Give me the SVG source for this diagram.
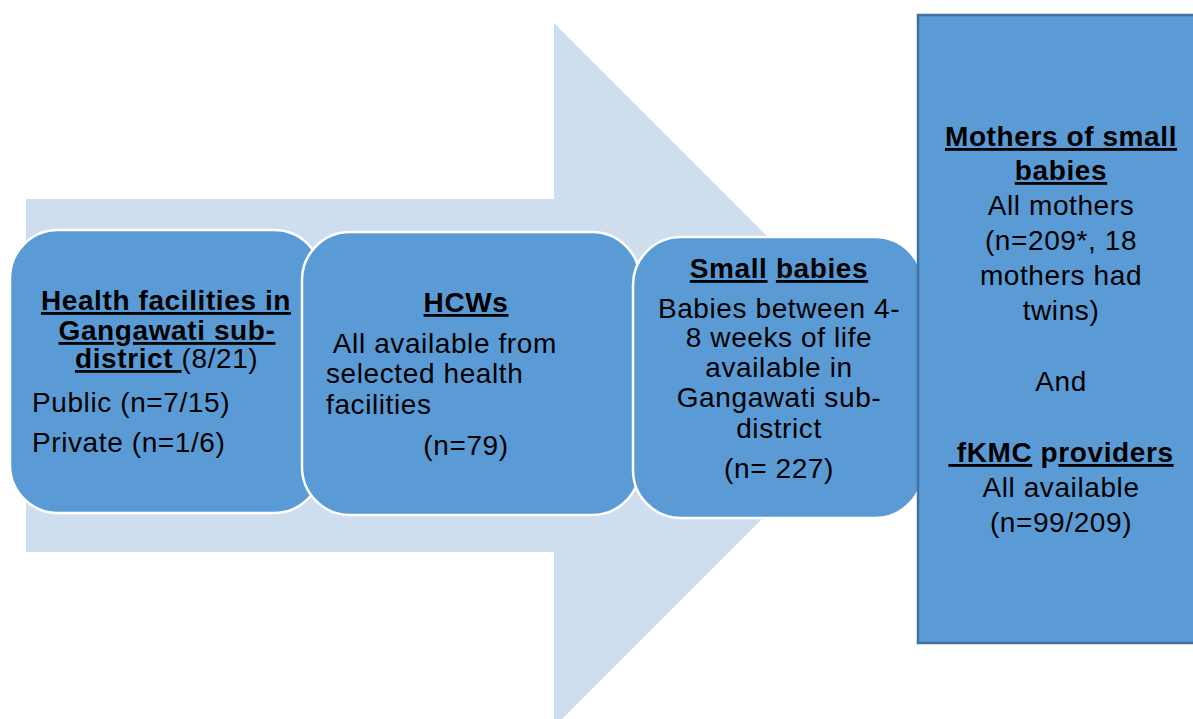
<svg xmlns="http://www.w3.org/2000/svg" width="1193" height="719" viewBox="0 0 1193 719">
  <style>
    .t { font-family: "Liberation Sans", Arial, sans-serif; font-size: 28px; letter-spacing: 0.6px; fill: #000; }
    .b { font-weight: bold; }
    .u { text-decoration: underline; }
    .mid { text-anchor: middle; }
    .stage { fill: #5b9bd5; stroke: #ffffff; stroke-width: 2.5; }
    .final { fill: #5b9bd5; stroke: #41719c; stroke-width: 2.5; }
  </style>

  <!-- background flow arrow -->
  <g id="connectors">
    <path d="M26 199 H554 V23 L906 375 L554 727 V552 H26 Z" fill="#cfdeee"/>
  </g>

  <g id="facilities">
    <rect class="stage" x="10" y="230" width="312" height="283" rx="48" ry="48"/>
    <text class="t b mid" x="166" y="310"><tspan class="u">Health facilities in</tspan></text>
    <text class="t b mid" x="167" y="340"><tspan class="u">Gangawati sub-</tspan></text>
    <text class="t" x="75" y="368"><tspan class="b u">district </tspan><tspan>(8/21)</tspan></text>
    <text class="t" x="32" y="412">Public (n=7/15)</text>
    <text class="t" x="32" y="452">Private (n=1/6)</text>
  </g>

  <g id="hcws">
    <rect class="stage" x="302" y="232" width="338" height="283" rx="48" ry="48"/>
    <text class="t b mid" x="466" y="312"><tspan class="u">HCWs</tspan></text>
    <text class="t" x="326" y="353" xml:space="preserve"> All available from</text>
    <text class="t" x="326" y="383">selected health</text>
    <text class="t" x="326" y="414">facilities</text>
    <text class="t mid" x="466" y="455">(n=79)</text>
  </g>

  <g id="babies">
    <rect class="stage" x="633" y="237" width="290" height="281" rx="48" ry="48"/>
    <text class="t b mid" x="779" y="278"><tspan class="u">Small</tspan> <tspan class="u">babies</tspan></text>
    <text class="t mid" x="779" y="318">Babies between 4-</text>
    <text class="t mid" x="779" y="347">8 weeks of life</text>
    <text class="t mid" x="779" y="377">available in</text>
    <text class="t mid" x="779" y="407">Gangawati sub-</text>
    <text class="t mid" x="779" y="438">district</text>
    <text class="t mid" x="779" y="478">(n= 227)</text>
  </g>

  <g id="mothers">
    <rect class="final" x="918" y="15" width="290" height="628"/>
    <text class="t b mid" x="1061" y="146"><tspan class="u">Mothers of small</tspan></text>
    <text class="t b mid" x="1061" y="180"><tspan class="u">babies</tspan></text>
    <text class="t mid" x="1061" y="215">All mothers</text>
    <text class="t mid" x="1061" y="250">(n=209*, 18</text>
    <text class="t mid" x="1061" y="285">mothers had</text>
    <text class="t mid" x="1061" y="320">twins)</text>
    <text class="t mid" x="1061" y="391">And</text>
    <text class="t b mid" x="1061" y="462" xml:space="preserve"><tspan class="u"> fKMC</tspan> p<tspan class="u">roviders</tspan></text>
    <text class="t mid" x="1061" y="497">All available</text>
    <text class="t mid" x="1061" y="532">(n=99/209)</text>
  </g>
</svg>
